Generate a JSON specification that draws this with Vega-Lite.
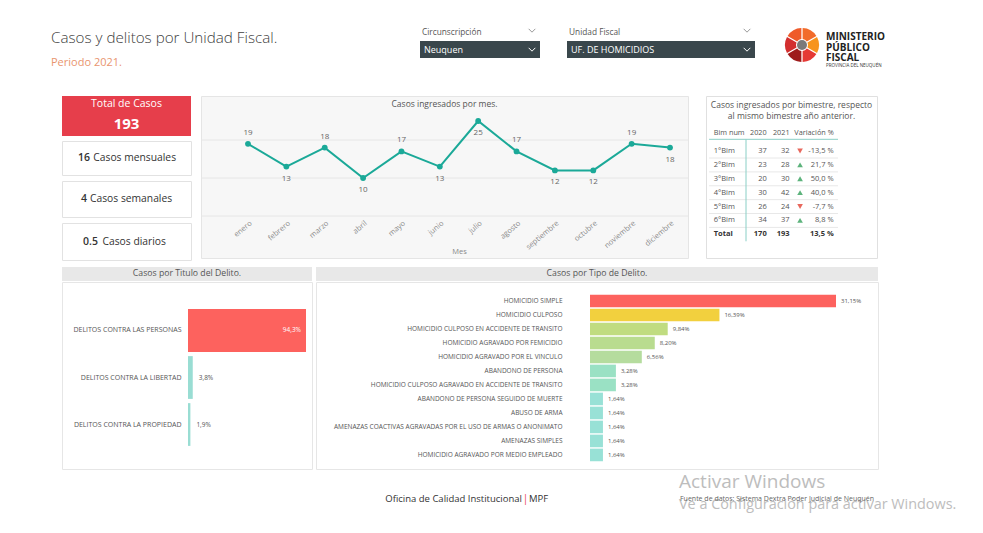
{
 "$schema": "https://vega.github.io/schema/vega-lite/v6.json",
 "padding": 0,
 "background": "white",
 "config": {
  "font": "Open Sans",
  "view": {"stroke": null},
  "locale": {"number": {"decimal": ",", "thousands": ".", "grouping": [3], "currency": ["", "%"], "percent": " %", "minus": "-"}},
  "title": {"fontWeight": "normal", "color": "#555555", "font": "Open Sans"},
  "axis": {"labelFont": "Open Sans", "titleFont": "Open Sans"}
 },
 "datasets": {
  "one": [{}],
  "grid": [{"v": 0}, {"v": 10}, {"v": 20}],
  "kpi": [{"total": 193, "mensual": 16, "semanal": 4, "diario": 0.5}],
  "logo": [{"seg": "a", "v": 1}, {"seg": "b", "v": 1}, {"seg": "c", "v": 1}, {"seg": "d", "v": 1}, {"seg": "e", "v": 1}, {"seg": "f", "v": 1}],
  "meses": [
   {"mes": "enero", "casos": 19}, {"mes": "febrero", "casos": 13}, {"mes": "marzo", "casos": 18},
   {"mes": "abril", "casos": 10}, {"mes": "mayo", "casos": 17}, {"mes": "junio", "casos": 13},
   {"mes": "julio", "casos": 25}, {"mes": "agosto", "casos": 17}, {"mes": "septiembre", "casos": 12},
   {"mes": "octubre", "casos": 12}, {"mes": "noviembre", "casos": 19}, {"mes": "diciembre", "casos": 18}
  ],
  "bimestres": [
   {"bim": "1°Bim", "a2020": 37, "a2021": 32, "var": -0.135},
   {"bim": "2°Bim", "a2020": 23, "a2021": 28, "var": 0.217},
   {"bim": "3°Bim", "a2020": 20, "a2021": 30, "var": 0.5},
   {"bim": "4°Bim", "a2020": 30, "a2021": 42, "var": 0.4},
   {"bim": "5°Bim", "a2020": 26, "a2021": 24, "var": -0.077},
   {"bim": "6°Bim", "a2020": 34, "a2021": 37, "var": 0.088}
  ],
  "totalbim": [{"bim": "Total", "a2020": 170, "a2021": 193, "var": 0.135}],
  "titulos": [
   {"titulo": "DELITOS CONTRA LAS PERSONAS", "pct": 94.3},
   {"titulo": "DELITOS CONTRA LA LIBERTAD", "pct": 3.8},
   {"titulo": "DELITOS CONTRA LA PROPIEDAD", "pct": 1.9}
  ],
  "tipos": [
   {"tipo": "HOMICIDIO SIMPLE", "pct": 31.15},
   {"tipo": "HOMICIDIO CULPOSO", "pct": 16.39},
   {"tipo": "HOMICIDIO CULPOSO EN ACCIDENTE DE TRANSITO", "pct": 9.84},
   {"tipo": "HOMICIDIO AGRAVADO POR FEMICIDIO", "pct": 8.2},
   {"tipo": "HOMICIDIO AGRAVADO POR EL VINCULO", "pct": 6.56},
   {"tipo": "ABANDONO DE PERSONA", "pct": 3.28},
   {"tipo": "HOMICIDIO CULPOSO AGRAVADO EN ACCIDENTE DE TRANSITO", "pct": 3.28},
   {"tipo": "ABANDONO DE PERSONA SEGUIDO DE MUERTE", "pct": 1.64},
   {"tipo": "ABUSO DE ARMA", "pct": 1.64},
   {"tipo": "AMENAZAS COACTIVAS AGRAVADAS POR EL USO DE ARMAS O ANONIMATO", "pct": 1.64},
   {"tipo": "AMENAZAS SIMPLES", "pct": 1.64},
   {"tipo": "HOMICIDIO AGRAVADO POR MEDIO EMPLEADO", "pct": 1.64}
  ]
 },
 "spacing": 0,
 "vconcat": [
  {
   "spacing": 0,
   "hconcat": [
    {
     "width": 420, "height": 95, "view": {"fill": "white"},
     "data": {"name": "one"}, "mark": {"type": "point", "size": 0, "opacity": 0}, "encoding": {},
     "title": {"text": "Casos y delitos por Unidad Fiscal.", "subtitle": "Periodo 2021.", "anchor": "start", "frame": "group", "orient": "top", "offset": -68, "dx": 51, "fontSize": 15.2, "fontWeight": 300, "color": "#404040", "subtitleColor": "#E9956F", "subtitleFontSize": 11, "subtitlePadding": 11}
    },
    {
     "spacing": 0,
     "vconcat": [
      {
       "width": 120, "height": 41, "data": {"name": "one"},
       "title": {"text": "Circunscripción", "anchor": "start", "frame": "group", "orient": "top", "offset": -36, "dx": 2, "fontSize": 8.3, "color": "#555555"},
       "mark": {"type": "point", "shape": "M-1,-0.5L0,0.5L1,-0.5", "filled": false, "stroke": "#999999", "strokeWidth": 1, "size": 45, "opacity": 1, "xOffset": 52, "yOffset": 10},
       "encoding": {}
      },
      {
       "width": 120, "height": 17, "view": {"fill": "#3A474C"},
       "data": {"name": "one"},
       "layer": [
        {"mark": {"type": "text", "text": "Neuquen", "align": "left", "dx": -56, "color": "white", "fontSize": 9}, "encoding": {}},
        {"mark": {"type": "point", "shape": "M-1,-0.5L0,0.5L1,-0.5", "filled": false, "stroke": "white", "strokeWidth": 1, "size": 45, "opacity": 1, "xOffset": 52}, "encoding": {}}
       ]
      }
     ]
    },
    {"width": 27, "height": 1, "data": {"name": "one"}, "mark": {"type": "point", "size": 0, "opacity": 0}, "encoding": {}},
    {
     "spacing": 0,
     "vconcat": [
      {
       "width": 188, "height": 41, "data": {"name": "one"},
       "title": {"text": "Unidad Fiscal", "anchor": "start", "frame": "group", "orient": "top", "offset": -36, "dx": 2, "fontSize": 8.3, "color": "#555555"},
       "mark": {"type": "point", "shape": "M-1,-0.5L0,0.5L1,-0.5", "filled": false, "stroke": "#999999", "strokeWidth": 1, "size": 45, "opacity": 1, "xOffset": 86, "yOffset": 10},
       "encoding": {}
      },
      {
       "width": 188, "height": 17, "view": {"fill": "#3A474C"},
       "data": {"name": "one"},
       "layer": [
        {"mark": {"type": "text", "text": "UF. DE HOMICIDIOS", "align": "left", "dx": -90, "color": "white", "fontSize": 9}, "encoding": {}},
        {"mark": {"type": "point", "shape": "M-1,-0.5L0,0.5L1,-0.5", "filled": false, "stroke": "white", "strokeWidth": 1, "size": 45, "opacity": 1, "xOffset": 86}, "encoding": {}}
       ]
      }
     ]
    },
    {"width": 30, "height": 1, "data": {"name": "one"}, "mark": {"type": "point", "size": 0, "opacity": 0}, "encoding": {}},
    {
     "width": 34, "height": 90,
     "layer": [
      {
       "data": {"name": "logo"},
       "mark": {"type": "arc", "outerRadius": 17, "innerRadius": 6, "padAngle": 0.07},
       "encoding": {
        "theta": {"field": "v", "type": "quantitative", "stack": true},
        "color": {"field": "seg", "type": "nominal", "scale": {"range": ["#F26B2A", "#F7941D", "#E53935", "#9E1B1B", "#D32F2F", "#EF5A2A"]}, "legend": null}
       }
      },
      {"data": {"name": "one"}, "mark": {"type": "point", "filled": true, "size": 100, "color": "#7A7A7A", "opacity": 1}, "encoding": {}}
     ]
    },
    {"width": 7, "height": 1, "data": {"name": "one"}, "mark": {"type": "point", "size": 0, "opacity": 0}, "encoding": {}},
    {
     "width": 70, "height": 90,
     "data": {"name": "one"}, "mark": {"type": "point", "size": 0, "opacity": 0}, "encoding": {},
     "title": {"text": ["MINISTERIO", "PÚBLICO", "FISCAL"], "subtitle": "PROVINCIA DEL NEUQUÉN", "anchor": "start", "frame": "group", "orient": "top", "offset": -67, "fontSize": 10, "fontWeight": "bold", "lineHeight": 10.8, "color": "#222222", "subtitleFontSize": 4.5, "subtitleColor": "#333333", "subtitlePadding": -1}
    }
   ]
  },
  {
   "spacing": 0,
   "hconcat": [
    {"width": 61, "height": 1, "data": {"name": "one"}, "mark": {"type": "point", "size": 0, "opacity": 0}, "encoding": {}},
    {
     "spacing": 4,
     "vconcat": [
      {
       "width": 129, "height": 40, "view": {"fill": "#E63E4B"},
       "data": {"name": "kpi"},
       "layer": [
        {"mark": {"type": "text", "text": "Total de Casos", "color": "white", "fontSize": 10.5, "dy": -12}, "encoding": {}},
        {"mark": {"type": "text", "color": "white", "fontSize": 15, "fontWeight": "bold", "dy": 8}, "encoding": {"text": {"field": "total", "type": "nominal"}}}
       ]
      },
      {
       "width": 129, "height": 34, "view": {"fill": "white", "stroke": "#E2E2E2"},
       "data": {"name": "kpi"},
       "layer": [
        {"mark": {"type": "text", "align": "right", "dx": -36.5, "fontSize": 10.5, "fontWeight": 600, "color": "#333333"}, "encoding": {"text": {"field": "mensual", "type": "nominal"}}},
        {"mark": {"type": "text", "align": "left", "dx": -33.2, "fontSize": 10.3, "color": "#333333", "text": "Casos mensuales"}, "encoding": {}}
       ]
      },
      {
       "width": 129, "height": 36, "view": {"fill": "white", "stroke": "#E2E2E2"},
       "data": {"name": "kpi"},
       "layer": [
        {"mark": {"type": "text", "align": "right", "dx": -39.5, "fontSize": 10.5, "fontWeight": 600, "color": "#333333"}, "encoding": {"text": {"field": "semanal", "type": "nominal"}}},
        {"mark": {"type": "text", "align": "left", "dx": -36.5, "fontSize": 10.3, "color": "#333333", "text": "Casos semanales"}, "encoding": {}}
       ]
      },
      {
       "width": 129, "height": 37, "view": {"fill": "white", "stroke": "#E2E2E2"},
       "data": {"name": "kpi"},
       "layer": [
        {"mark": {"type": "text", "align": "right", "dx": -28.5, "fontSize": 10.5, "fontWeight": 600, "color": "#333333"}, "encoding": {"text": {"field": "diario", "type": "nominal"}}},
        {"mark": {"type": "text", "align": "left", "dx": -24, "fontSize": 10.3, "color": "#333333", "text": "Casos diarios"}, "encoding": {}}
       ]
      }
     ]
    },
    {"width": 8, "height": 1, "data": {"name": "one"}, "mark": {"type": "point", "size": 0, "opacity": 0}, "encoding": {}},
    {
     "width": 487, "height": 162, "view": {"fill": "#F7F7F7", "stroke": "#E5E5E5"},
     "title": {"text": "Casos ingresados por mes.", "frame": "group", "anchor": "middle", "offset": -12, "fontSize": 8.5, "color": "#555555"},
     "layer": [
      {
       "data": {"name": "grid"},
       "mark": {"type": "rule", "color": "#E6E6E6", "strokeWidth": 1},
       "encoding": {"y": {"field": "v", "type": "quantitative", "scale": {"domain": [0, 25], "range": [120, 25], "nice": false}, "axis": null}}
      },
      {
       "data": {"name": "meses"},
       "encoding": {
        "x": {"field": "mes", "type": "ordinal", "sort": null, "scale": {"type": "point", "range": [47, 469], "padding": 0},
              "axis": {"orient": "bottom", "offset": -42, "labelAngle": -40, "domain": false, "ticks": false, "tickSize": 0, "labelPadding": 3, "labelFontSize": 7.5, "labelColor": "#8A8A8A", "grid": false, "title": "Mes", "titleFontSize": 7.5, "titleColor": "#8A8A8A", "titleFontWeight": "normal", "titlePadding": -3}},
        "y": {"field": "casos", "type": "quantitative",
              "axis": {"values": [0, 10, 20], "offset": -28, "domain": false, "ticks": false, "tickSize": 0, "labelPadding": 3, "labelFontSize": 8, "labelColor": "#8A8A8A", "grid": false, "title": "Cantidad de casos", "titleFontSize": 6.5, "titleColor": "#8A8A8A", "titleFontWeight": "normal", "titlePadding": 5}}
       },
       "layer": [
        {"mark": {"type": "line", "color": "#1BA998", "strokeWidth": 2}},
        {"mark": {"type": "point", "filled": true, "opacity": 1, "color": "#1BA998", "size": 34}},
        {"transform": [{"filter": {"field": "mes", "oneOf": ["enero", "marzo", "mayo", "agosto", "noviembre"]}}],
         "mark": {"type": "text", "dy": -11, "fontSize": 8, "color": "#666666"},
         "encoding": {"text": {"field": "casos", "type": "quantitative", "format": "d"}}},
        {"transform": [{"filter": {"field": "mes", "oneOf": ["febrero", "abril", "junio", "julio", "septiembre", "octubre", "diciembre"]}}],
         "mark": {"type": "text", "dy": 12, "fontSize": 8, "color": "#666666"},
         "encoding": {"text": {"field": "casos", "type": "quantitative", "format": "d"}}}
       ]
      }
     ]
    },
    {"width": 16, "height": 1, "data": {"name": "one"}, "mark": {"type": "point", "size": 0, "opacity": 0}, "encoding": {}},
    {
     "width": 171, "height": 162, "view": {"fill": "white", "stroke": "#E0E0E0"},
     "title": {"text": ["Casos ingresados por bimestre, respecto", "al mismo bimestre año anterior."], "frame": "group", "anchor": "middle", "offset": -24, "fontSize": 8.5, "lineHeight": 11, "color": "#555555"},
     "layer": [
      {
       "data": {"name": "bimestres"},
       "mark": {"type": "rule", "color": "#E8E8E8", "strokeWidth": 1, "yOffset": 7},
       "encoding": {
        "y": {"field": "bim", "type": "ordinal", "scale": {"type": "point", "padding": 0, "domain": ["1°Bim", "2°Bim", "3°Bim", "4°Bim", "5°Bim", "6°Bim", "Total"], "range": [55, 138.3]}, "axis": null},
        "x": {"datum": 0.018, "type": "quantitative", "scale": {"domain": [0, 1]}, "axis": null},
        "x2": {"datum": 0.772}
       }
      },
      {
       "data": {"name": "one"},
       "mark": {"type": "rule", "color": "#8ACFC6", "strokeWidth": 1, "yOffset": -11.7},
       "encoding": {"y": {"datum": "1°Bim", "type": "ordinal"}, "x": {"datum": 0.018, "type": "quantitative"}, "x2": {"datum": 0.772}}
      },
      {
       "data": {"name": "one"},
       "mark": {"type": "rule", "color": "#8ACFC6", "strokeWidth": 1, "yOffset": -11.7, "y2Offset": 7},
       "encoding": {"x": {"datum": 0.234, "type": "quantitative"}, "y": {"datum": "1°Bim", "type": "ordinal"}, "y2": {"datum": "Total"}}
      },
      {"data": {"name": "one"}, "mark": {"type": "text", "text": "Bim num", "align": "left", "dy": -18.3, "fontSize": 7.3, "color": "#555555"}, "encoding": {"x": {"datum": 0.045, "type": "quantitative"}, "y": {"datum": "1°Bim", "type": "ordinal"}}},
      {"data": {"name": "one"}, "mark": {"type": "text", "text": "2020", "align": "right", "dy": -18.3, "fontSize": 7.3, "color": "#555555"}, "encoding": {"x": {"datum": 0.355, "type": "quantitative"}, "y": {"datum": "1°Bim", "type": "ordinal"}}},
      {"data": {"name": "one"}, "mark": {"type": "text", "text": "2021", "align": "right", "dy": -18.3, "fontSize": 7.3, "color": "#555555"}, "encoding": {"x": {"datum": 0.489, "type": "quantitative"}, "y": {"datum": "1°Bim", "type": "ordinal"}}},
      {"data": {"name": "one"}, "mark": {"type": "text", "text": "Variación %", "align": "right", "dy": -18.3, "fontSize": 7.3, "color": "#555555"}, "encoding": {"x": {"datum": 0.747, "type": "quantitative"}, "y": {"datum": "1°Bim", "type": "ordinal"}}},
      {
       "data": {"name": "bimestres"},
       "encoding": {"y": {"field": "bim", "type": "ordinal"}},
       "layer": [
        {"mark": {"type": "text", "align": "left", "fontSize": 7.5, "color": "#555555"}, "encoding": {"x": {"datum": 0.045, "type": "quantitative"}, "text": {"field": "bim", "type": "nominal"}}},
        {"mark": {"type": "text", "align": "right", "fontSize": 7.5, "color": "#555555"}, "encoding": {"x": {"datum": 0.355, "type": "quantitative"}, "text": {"field": "a2020", "type": "quantitative", "format": "d"}}},
        {"mark": {"type": "text", "align": "right", "fontSize": 7.5, "color": "#555555"}, "encoding": {"x": {"datum": 0.489, "type": "quantitative"}, "text": {"field": "a2021", "type": "quantitative", "format": "d"}}},
        {"mark": {"type": "point", "filled": true, "opacity": 1, "size": 32},
         "encoding": {"x": {"datum": 0.55, "type": "quantitative"},
                      "shape": {"condition": {"test": "datum['var'] < 0", "value": "triangle-down"}, "value": "triangle-up"},
                      "color": {"condition": {"test": "datum['var'] < 0", "value": "#E8685D"}, "value": "#5DB37C"}}},
        {"mark": {"type": "text", "align": "right", "fontSize": 7.5, "color": "#555555"}, "encoding": {"x": {"datum": 0.747, "type": "quantitative"}, "text": {"field": "var", "type": "quantitative", "format": ".1%"}}}
       ]
      },
      {
       "data": {"name": "totalbim"},
       "encoding": {"y": {"field": "bim", "type": "ordinal"}},
       "layer": [
        {"mark": {"type": "text", "align": "left", "fontSize": 7.5, "fontWeight": "bold", "color": "#333333"}, "encoding": {"x": {"datum": 0.045, "type": "quantitative"}, "text": {"field": "bim", "type": "nominal"}}},
        {"mark": {"type": "text", "align": "right", "fontSize": 7.5, "fontWeight": "bold", "color": "#333333"}, "encoding": {"x": {"datum": 0.355, "type": "quantitative"}, "text": {"field": "a2020", "type": "quantitative", "format": "d"}}},
        {"mark": {"type": "text", "align": "right", "fontSize": 7.5, "fontWeight": "bold", "color": "#333333"}, "encoding": {"x": {"datum": 0.489, "type": "quantitative"}, "text": {"field": "a2021", "type": "quantitative", "format": "d"}}},
        {"mark": {"type": "text", "align": "right", "fontSize": 7.5, "fontWeight": "bold", "color": "#333333"}, "encoding": {"x": {"datum": 0.747, "type": "quantitative"}, "text": {"field": "var", "type": "quantitative", "format": ".1%"}}}
       ]
      }
     ]
    }
   ]
  },
  {"width": 10, "height": 6, "data": {"name": "one"}, "mark": {"type": "point", "size": 0, "opacity": 0}, "encoding": {}},
  {
   "spacing": 0,
   "hconcat": [
    {"width": 61, "height": 1, "data": {"name": "one"}, "mark": {"type": "point", "size": 0, "opacity": 0}, "encoding": {}},
    {
     "spacing": 0,
     "vconcat": [
      {"width": 250, "height": 14, "view": {"fill": "#E8E8E8"}, "data": {"name": "one"}, "mark": {"type": "point", "size": 0, "opacity": 0}, "encoding": {},
       "title": {"text": "Casos por Titulo del Delito.", "frame": "group", "anchor": "middle", "offset": -11, "fontSize": 8.7, "color": "#555555"}},
      {
       "width": 250, "height": 187, "view": {"fill": "white", "stroke": "#E6E6E6"},
       "data": {"name": "titulos"},
       "encoding": {
        "y": {"field": "titulo", "type": "nominal", "sort": null, "scale": {"paddingInner": 0.09, "paddingOuter": 0.534, "align": 0.54},
              "axis": {"offset": -122, "domain": false, "ticks": false, "tickSize": 0, "labelPadding": 3, "labelFontSize": 7, "labelColor": "#555555", "labelLimit": 0, "title": null, "grid": false}},
        "x": {"field": "pct", "type": "quantitative", "scale": {"domain": [0, 94.3], "range": [126, 244], "nice": false}, "axis": null}
       },
       "layer": [
        {"mark": {"type": "bar"}, "encoding": {"color": {"condition": {"test": "datum.pct > 50", "value": "#FD625E"}, "value": "#99DDD3"}}},
        {"transform": [{"filter": "datum.pct > 50"}], "mark": {"type": "text", "align": "right", "dx": -5, "fontSize": 6.5, "color": "white"}, "encoding": {"text": {"field": "pct", "type": "quantitative", "format": "$.1f"}}},
        {"transform": [{"filter": "datum.pct <= 50"}], "mark": {"type": "text", "align": "left", "dx": 6, "fontSize": 6.5, "color": "#555555"}, "encoding": {"text": {"field": "pct", "type": "quantitative", "format": "$.1f"}}}
       ]
      }
     ]
    },
    {"width": 2, "height": 1, "data": {"name": "one"}, "mark": {"type": "point", "size": 0, "opacity": 0}, "encoding": {}},
    {
     "spacing": 0,
     "vconcat": [
      {"width": 562, "height": 14, "view": {"fill": "#E8E8E8"}, "data": {"name": "one"}, "mark": {"type": "point", "size": 0, "opacity": 0}, "encoding": {},
       "title": {"text": "Casos por Tipo de Delito.", "frame": "group", "anchor": "middle", "offset": -11, "fontSize": 8.7, "color": "#555555"}},
      {
       "width": 562, "height": 187, "view": {"fill": "white", "stroke": "#E6E6E6"},
       "data": {"name": "tipos"},
       "encoding": {
        "y": {"field": "tipo", "type": "nominal", "sort": null, "scale": {"paddingInner": 0.1, "paddingOuter": 0.729, "align": 0.62},
              "axis": {"offset": -250, "domain": false, "ticks": false, "tickSize": 0, "labelPadding": 4, "labelFontSize": 6.5, "labelColor": "#555555", "labelLimit": 0, "title": null, "grid": false}},
        "x": {"field": "pct", "type": "quantitative", "scale": {"domain": [0, 31.15], "range": [274, 520], "nice": false}, "axis": null}
       },
       "layer": [
        {"mark": {"type": "bar"}, "encoding": {"color": {"field": "pct", "type": "quantitative", "scale": {"domain": [1.64, 6.56, 16.39, 31.15], "range": ["#98E1D6", "#B5DC9E", "#F2D03E", "#FD625E"]}, "legend": null}}},
        {"mark": {"type": "text", "align": "left", "dx": 5, "fontSize": 6, "color": "#555555"}, "encoding": {"text": {"field": "pct", "type": "quantitative", "format": "$.2f"}}}
       ]
      }
     ]
    }
   ]
  },
  {
   "width": 983, "height": 66,
   "data": {"name": "one"},
   "layer": [
    {"mark": {"type": "point", "size": 0, "opacity": 0}, "encoding": {}},
    {"mark": {"type": "text", "text": "Oficina de Calidad Institucional", "align": "right", "dx": 30.5, "dy": -4, "fontSize": 9.5, "color": "#333333"}, "encoding": {}},
    {"mark": {"type": "text", "text": "|", "align": "center", "dx": 34, "dy": -4, "fontSize": 10, "color": "#E8404F"}, "encoding": {}},
    {"mark": {"type": "text", "text": "MPF", "align": "left", "dx": 37.5, "dy": -4, "fontSize": 9.5, "color": "#333333"}, "encoding": {}},
    {"mark": {"type": "text", "text": "Activar Windows", "align": "left", "dx": 187.5, "dy": -21, "fontSize": 19, "color": "#BDBDBD"}, "encoding": {}},
    {"mark": {"type": "text", "text": "Ve a Configuración para activar Windows.", "align": "left", "dx": 187.5, "dy": 2, "fontSize": 14.4, "color": "#BDBDBD"}, "encoding": {}},
    {"mark": {"type": "text", "text": "Fuente de datos: Sistema Dextra Poder Judicial de Neuquén", "align": "left", "dx": 188.5, "dy": -4, "fontSize": 7, "color": "#666666"}, "encoding": {}}
   ]
  }
 ]
}
